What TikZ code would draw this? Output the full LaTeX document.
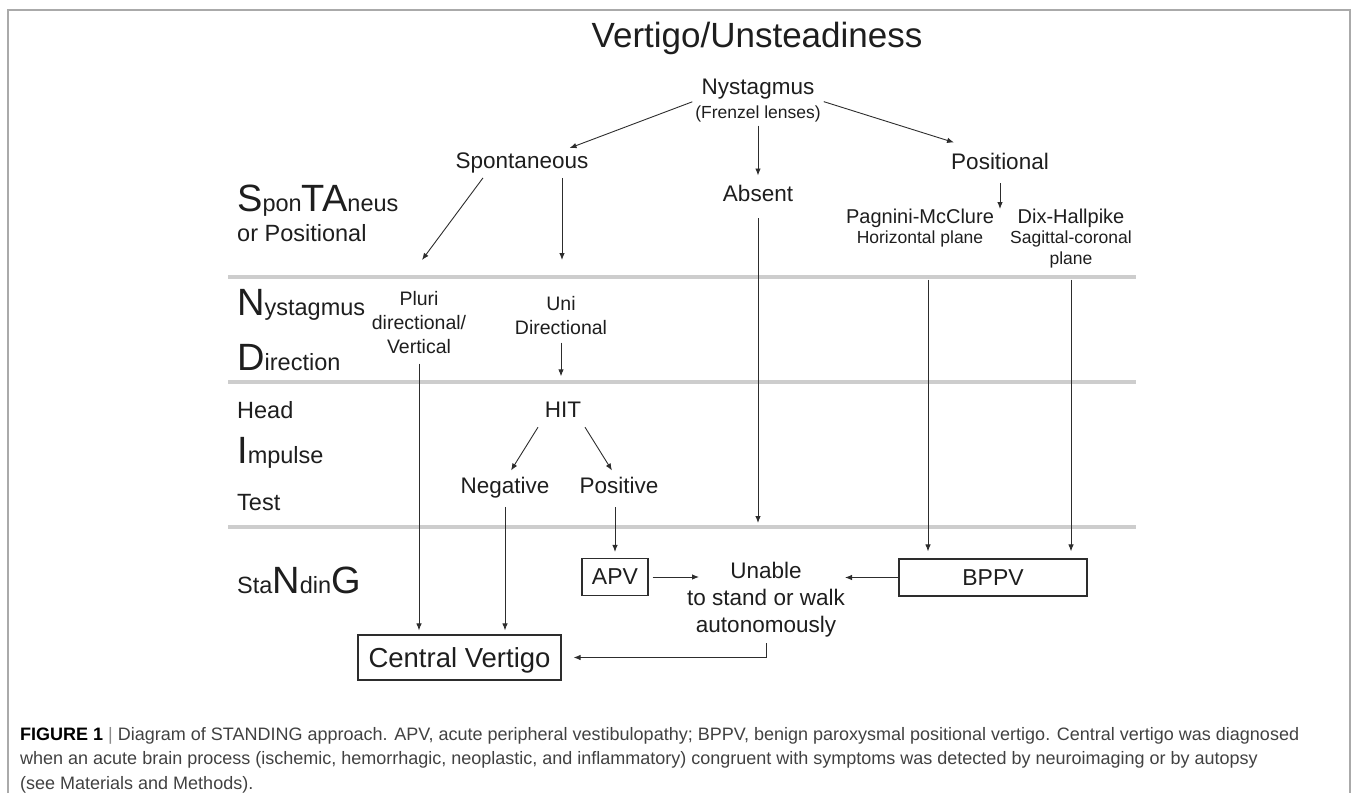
\documentclass[tikz,border=0pt]{standalone}
\usepackage{fontspec}
\setmainfont{Liberation Sans}
\usepackage{xcolor}
\definecolor{ink}{RGB}{30,30,30}
\definecolor{wire}{RGB}{45,45,45}
\definecolor{bandgray}{RGB}{205,205,205}
\definecolor{framegray}{RGB}{170,170,170}
\definecolor{captext}{RGB}{65,65,65}
\usepackage{tikz}
\usetikzlibrary{arrows.meta}
\usetikzlibrary{calc}
\newcommand{\bigini}[1]{{\fontsize{38}{40}\selectfont #1}}
\tikzstyle{lbl} = [
    inner sep=0pt,
    align=center,
    text=ink,
    font=\fontsize{22.5}{27}\selectfont,
]
\tikzstyle{sublbl} = [
    lbl,
    font=\fontsize{19.5}{24}\selectfont,
]
\tikzstyle{stage} = [
    inner sep=0pt,
    anchor=base west,
    text=ink,
    font=\fontsize{23.5}{27}\selectfont,
]
\tikzstyle{box} = [
    rectangle, text centered,
    inner sep=0pt,
    text depth=0pt,
    draw=wire,
    line width=1.2pt,
    text=ink,
    font=\fontsize{23}{27}\selectfont,
    minimum height=37pt,
]
\tikzstyle{band} = [line width=4pt, draw=bandgray]
\tikzstyle{frame} = [line width=1.3pt, draw=framegray]
\tikzstyle{arrow} = [->,>={Latex[length=7pt,width=5.5pt]}, line width=0.9pt, draw=wire]

\begin{document}
\begin{tikzpicture}[x=1pt,y=-1pt]
    \useasboundingbox (0,0) rectangle (1356,793);
    \draw [frame] (8,793) -- (8,10) -- (1350,10) -- (1350,793);

    % stage bands
    \foreach \yy in {277,382,527} {
        \draw [band] (228,\yy) -- (1136,\yy);
    }
    \foreach \txt/\yy [count=\i] in {{\bigini{S}pon\bigini{TA}neus}/211, {or Positional}/241,
            {\bigini{N}ystagmus}/315, {\bigini{D}irection}/370, {Head}/418,
            {\bigini{I}mpulse}/463, {Test}/510, {Sta\bigini{N}din\bigini{G}}/593} {
        \node (stage\i) at (237,\yy) [stage] {\txt};
    }

    % nodes
    \node (title) at (757,47) [lbl, anchor=base, font=\fontsize{35}{40}\selectfont] {Vertigo/Unsteadiness};
    \node (nyst) at (758,79) [lbl, anchor=north] {Nystagmus\\[-3pt]{\fontsize{17.5}{21}\selectfont (Frenzel lenses)}};
    \node (spon) at (522,168) [lbl, anchor=base] {Spontaneous};
    \node (pos) at (1000,169) [lbl, anchor=base] {Positional};
    \node (absent) at (758,201) [lbl, anchor=base] {Absent};
    \node (pagnini) at (920,209) [lbl, anchor=north, font=\fontsize{20}{24}\selectfont] {Pagnini-McClure\\[-4pt]{\fontsize{17.5}{21}\selectfont Horizontal plane}};
    \node (dix) at (1071,209) [lbl, anchor=north, font=\fontsize{20}{24}\selectfont] {Dix-Hallpike\\[-4pt]{\fontsize{17.5}{21}\selectfont Sagittal-coronal}\\[-3pt]{\fontsize{17.5}{21}\selectfont plane}};
    \node (pluri) at (419,291) [sublbl, anchor=north] {Pluri\\directional/\\Vertical};
    \node (uni) at (561,296) [sublbl, anchor=north] {Uni\\Directional};
    \node (hit) at (563,417) [lbl, anchor=base] {HIT};
    \node (neg) at (505,493) [lbl, anchor=base] {Negative};
    \node (posi) at (619,493) [lbl, anchor=base] {Positive};
    \node (apv) at (615,577) [box, minimum width=66pt] {APV};
    \node (bppv) at (993,577.5) [box, minimum width=188pt] {BPPV};
    \node (unable) at (766,562) [lbl, anchor=north] {Unable\\to stand or walk\\autonomously};
    \node (central) at (459.5,657.5) [box, minimum width=203pt, minimum height=45pt, font=\fontsize{27.5}{32}\selectfont] {Central Vertigo};
    \coordinate (pagdrop) at ($(pagnini.south)+(8,0)$);
    \coordinate (apvin) at ($(unable.west)+(12,0)$);

    % arrows
    \draw [arrow, shorten <=3pt] (nyst.west) -- ($(spon.north east)+(-19,-4)$);
    \draw [arrow, shorten <=3pt] (nyst.east) -- ($(pos.north west)+(3,-10)$);
    \draw [arrow, shorten <=3pt, shorten >=9pt] (nyst.south) -- (absent.north);
    \draw [arrow, shorten <=17pt, shorten >=39pt] (absent.south) -- (absent.south |- unable.north);
    \draw [arrow, shorten <=14pt] (pos.south) -- (pos.south |- pagnini.north);
    \draw [arrow, shorten <=32pt, shorten >=7pt] (pagdrop) -- (pagdrop |- bppv.north);
    \draw [arrow, shorten <=11pt, shorten >=7pt] (dix.south) -- (dix.south |- bppv.north);
    \draw [arrow] ($(spon.south)+(-39,5)$) -- ($(pluri.north)+(3,-31)$);
    \draw [arrow] ($(spon.south)+(40,5)$) -- ($(uni.north)+(1,-36)$);
    \draw [arrow, shorten <=8pt, shorten >=25pt] (uni.south) -- (uni.south |- hit.north);
    \draw [arrow] ($(hit.south)+(-25,10)$) -- ($(neg.north)+(6,-6)$);
    \draw [arrow] ($(hit.south)+(22,10)$) -- ($(posi.north)+(-7,-6)$);
    \draw [arrow, shorten <=10pt, shorten >=4pt] (pluri.south) -- (pluri.south |- central.north);
    \draw [arrow, shorten <=9pt, shorten >=4pt] (neg.south) -- (neg.south |- central.north);
    \draw [arrow, shorten <=14pt, shorten >=6pt] (posi.south -| apv.north) -- (apv.north);
    \draw [arrow, shorten <=4pt] (apv.east) -- (apvin |- apv.east);
    \draw [arrow] (bppv.west) -- (bppv.west -| unable.east);
    \draw [arrow, shorten <=6pt, shorten >=12pt] (unable.south) |- (central.east);

    % caption
    \node (caption) at (20,727) [anchor=north west, inner sep=0pt, align=left, text=captext,
        font=\fontsize{18}{24.5}\selectfont] {\textcolor{black}{\textbf{FIGURE 1}} \textcolor{black!45}{|} Diagram of STANDING approach. APV, acute peripheral vestibulopathy; BPPV, benign paroxysmal positional vertigo. Central vertigo was diagnosed\\
        when an acute brain process (ischemic, hemorrhagic, neoplastic, and inflammatory) congruent with symptoms was detected by neuroimaging or by autopsy\\
        (see Materials and Methods).};
\end{tikzpicture}
\end{document}
